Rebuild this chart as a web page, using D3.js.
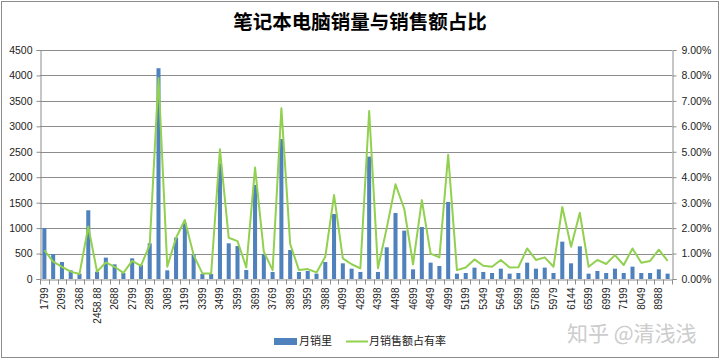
<!DOCTYPE html>
<html><head><meta charset="utf-8">
<script src="https://cdn.jsdelivr.net/npm/d3@7/dist/d3.min.js"></script>
<style>html,body{margin:0;padding:0;background:#fff;}</style>
</head><body>
<svg id="c" width="720" height="360"></svg>
<script>
const categories = ["1799","1999","2099","2299","2368","2399","2458.88","2499","2688","2699","2799","2868","2899","2999","3089","3099","3199","3299","3399","3488","3499","3588","3599","3688","3699","3749","3769","3799","3899","3949","3959","3979","3988","3999","4099","4199","4289","4299","4398","4399","4498","4599","4699","4799","4849","4899","4999","5099","5199","5299","5349","5499","5649","5688","5699","5749","5788","5899","5979","5999","6144","6499","6599","6799","6999","7099","7199","7999","8049","8499","8988","9999"];
const monthlySales = [1000,490,334,170,105,1350,144,420,288,118,406,275,
  701,4142,170,812,1094,485,98,98,2274,701,649,177,
  1848,491,138,2752,570,138,157,105,334,1278,308,203,138,
  2405,138,623,1297,950,190,1022,321,255,1514,105,118,
  223,138,118,203,105,118,321,203,223,118,734,308,
  642,105,157,118,203,118,242,118,118,190,105];
const salesShare = [1.13,0.68,0.48,0.29,0.20,2.06,0.29,0.65,0.48,0.24,0.71,0.52,
  1.35,7.9,0.48,1.62,2.32,0.94,0.22,0.22,5.1,1.62,1.49,0.45,
  4.38,1.07,0.35,6.71,1.38,0.35,0.39,0.26,0.87,3.30,0.81,0.58,0.42,
  6.6,0.42,2.0,3.72,2.75,0.58,3.1,1.0,0.85,4.88,0.35,0.45,
  0.77,0.52,0.48,0.75,0.45,0.46,1.2,0.75,0.85,0.48,2.83,1.27,
  2.6,0.48,0.75,0.59,0.94,0.55,1.2,0.64,0.71,1.15,0.71];
const leftTicks = [0,500,1000,1500,2000,2500,3000,3500,4000,4500];
const rightTicks = [0,1,2,3,4,5,6,7,8,9];
const title = "笔记本电脑销量与销售额占比";
const legendBar = "月销里";
const legendLine = "月销售额占有率";
const watermark = "知乎 @清浅浅";

const svg = d3.select("#c");
const L = 40, R = 672, T = 50, B = 279;
const x = d3.scaleBand().domain(categories).range([L, R]).padding(0);
const yL = d3.scaleLinear().domain([0, 4500]).range([B, T]);
const yR = d3.scaleLinear().domain([0, 9]).range([B, T]);
const font = "'Liberation Sans', Arial, sans-serif";
const cjk = "'Noto Sans CJK SC', sans-serif";

svg.append("rect").attr("x",1.5).attr("y",1.5).attr("width",717).attr("height",356)
  .attr("fill","#fff").attr("stroke","#8c8c8c").attr("stroke-width",1);

svg.append("text").attr("x",360).attr("y",29).attr("text-anchor","middle")
  .attr("font-family",cjk).attr("font-weight","bold").attr("font-size",19.5).attr("fill","#000").text(title);

svg.append("g").selectAll("line").data(leftTicks.slice(1)).join("line")
  .attr("x1",L).attr("x2",R).attr("y1",d=>Math.round(yL(d))+0.5).attr("y2",d=>Math.round(yL(d))+0.5)
  .attr("stroke","#8c8c8c").attr("stroke-width",1);

const gL = svg.append("g").attr("transform",`translate(${L+0.5},0)`)
  .call(d3.axisLeft(yL).tickValues(leftTicks).tickSize(4).tickFormat(d3.format("d")));
gL.select(".domain").attr("stroke","#8c8c8c");
gL.selectAll(".tick line").attr("stroke","#8c8c8c");
gL.selectAll("text").attr("font-family",font).attr("font-size",10.5).attr("fill","#222").attr("x",-8);

const gR = svg.append("g").attr("transform",`translate(${R+0.5},0)`)
  .call(d3.axisRight(yR).tickValues(rightTicks).tickSize(4).tickFormat(d=>d3.format(".2f")(d)+"%"));
gR.select(".domain").attr("stroke","#8c8c8c");
gR.selectAll(".tick line").attr("stroke","#8c8c8c");
gR.selectAll("text").attr("font-family",font).attr("font-size",10.5).attr("fill","#222").attr("x",9);

const bw = x.bandwidth()*0.46;
svg.append("g").selectAll("rect").data(categories).join("rect")
  .attr("x",(d)=>x(d)+(x.bandwidth()-bw)/2)
  .attr("y",(d,i)=>yL(monthlySales[i]))
  .attr("width",bw)
  .attr("height",(d,i)=>B-yL(monthlySales[i]))
  .attr("fill","#4F81BD");

const line = d3.line().x(d=>x(d.c)+x.bandwidth()/2).y(d=>yR(d.v));
svg.append("path").datum(categories.map((c,i)=>({c, v: salesShare[i]})))
  .attr("d",line).attr("fill","none").attr("stroke","#92D050").attr("stroke-width",2).attr("stroke-linejoin","round");

const gB = svg.append("g").attr("transform",`translate(0,${B+0.5})`)
  .call(d3.axisBottom(x).tickSize(0).tickFormat((d,i)=> i%2===0 ? d : ""));
gB.select(".domain").attr("stroke","#8c8c8c");
gB.selectAll("text").attr("font-family",font).attr("font-size",10).attr("fill","#222")
  .attr("text-anchor","end").attr("y",0).attr("x",0).attr("dy","0.35em")
  .attr("transform","translate(0,8) rotate(-90)");
const bounds = categories.map(d=>x(d)).concat([x(categories[categories.length-1])+x.step()]);
gB.append("g").selectAll("line").data(bounds).join("line")
  .attr("x1",d=>Math.round(d)+0.5).attr("x2",d=>Math.round(d)+0.5).attr("y1",0).attr("y2",5)
  .attr("stroke","#8c8c8c");

svg.append("rect").attr("x",274).attr("y",338).attr("width",23).attr("height",7).attr("fill","#4F81BD");
svg.append("text").attr("x",299).attr("y",345).attr("font-family",cjk).attr("font-size",11).attr("fill","#222").text(legendBar);
svg.append("line").attr("x1",346).attr("x2",368).attr("y1",341.5).attr("y2",341.5).attr("stroke","#92D050").attr("stroke-width",2);
svg.append("text").attr("x",369).attr("y",345).attr("font-family",cjk).attr("font-size",11).attr("fill","#222").text(legendLine);

svg.append("text").attr("x",567).attr("y",341).attr("font-family",cjk).attr("font-size",21).attr("fill","#cccccc").text(watermark);
</script>
</body></html>
